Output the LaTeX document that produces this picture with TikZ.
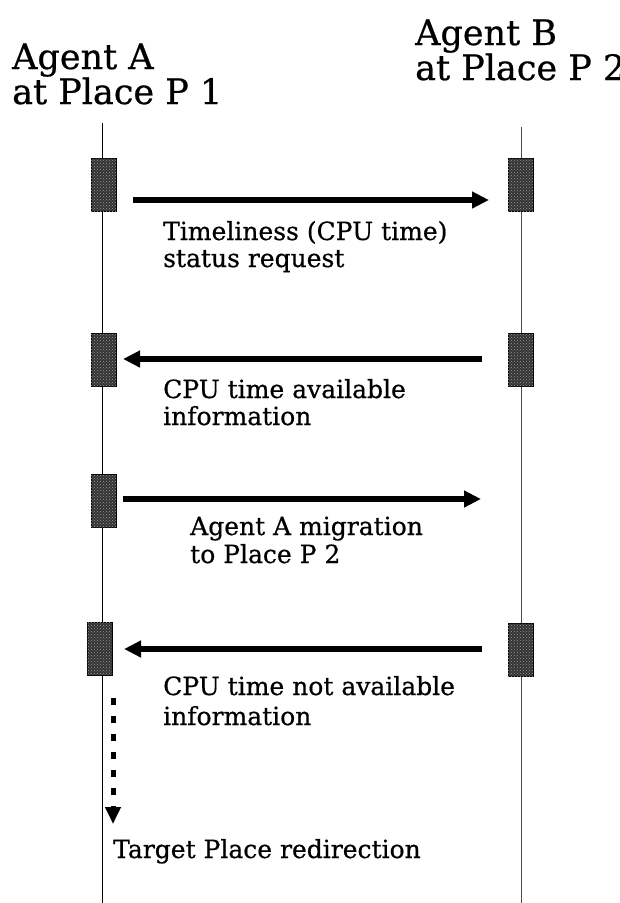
\documentclass[tikz,border=0pt]{standalone}
\usepackage{fontspec}
\setmainfont[FakeBold=0.6]{DejaVu Serif}
\usetikzlibrary{arrows.meta,patterns}
\begin{document}
\begin{tikzpicture}[x=1pt,y=-1pt,
  head/.style={anchor=base west,inner sep=0pt,font=\fontsize{35}{38}\selectfont},
  lbl/.style={anchor=base west,inner sep=0pt,font=\fontsize{25}{27}\selectfont},
  act/.style={draw=black,line width=0.6pt,fill=black!80,minimum width=25pt,minimum height=53pt,inner sep=0pt,
    postaction={pattern=crosshatch dots,pattern color=black!40}},
  msg/.style={line width=6pt,-{Triangle[length=17pt,width=16pt]}},
  redir/.style={line width=5pt,dash pattern=on 7pt off 11pt,-{Triangle[length=17pt,width=15pt]}}]
\useasboundingbox (0,0) rectangle (620,903);
% headings
\node[head] (ha1) at (12,69) {Agent A};
\node[head] (ha2) at (12,104) {at Place P 1};
\node[head] (hb1) at (415,45) {Agent B};
\node[head] (hb2) at (415,80) {at Place P 2};
% lifelines
\coordinate (la0) at (102,123);
\coordinate (la1) at (102,903);
\coordinate (lb0) at (521,127);
\coordinate (lb1) at (521,903);
\draw[line width=1pt] (la0) -- (la1);
\draw[line width=1pt,black!70] (lb0) -- (lb1);
% activation boxes
\node[act] (A1) at (103.5,184.5) {};
\node[act] (B1) at (520.5,184.5) {};
\node[act] (A2) at (103.5,359.5) {};
\node[act] (B2) at (520.5,359.5) {};
\node[act] (A3) at (103.5,500.5) {};
\node[act] (A4) at (99.5,649) {};
\node[act] (B4) at (520.5,649.5) {};
% message endpoints
\coordinate (m1s) at (133,200);
\coordinate (m1e) at (489,200);
\coordinate (m2s) at (482,359);
\coordinate (m2e) at (123,359);
\coordinate (m3s) at (123,499);
\coordinate (m3e) at (481,499);
\coordinate (m4s) at (482,649);
\coordinate (m4e) at (124,649);
\coordinate (r0) at (113,698);
\coordinate (r1) at (113,824);
\draw[msg] (m1s) -- (m1e);
\draw[msg] (m2s) -- (m2e);
\draw[msg] (m3s) -- (m3e);
\draw[msg] (m4s) -- (m4e);
\draw[redir] (r0) -- (r1);
% labels
\node[lbl] (t1a) at (163,240) {Timeliness (CPU time)};
\node[lbl] (t1b) at (163,267) {status request};
\node[lbl] (t2a) at (163,398) {CPU time available};
\node[lbl] (t2b) at (163,425) {information};
\node[lbl] (t3a) at (190,535) {Agent A migration};
\node[lbl] (t3b) at (190,563) {to Place P 2};
\node[lbl] (t4a) at (163,695) {CPU time not available};
\node[lbl] (t4b) at (163,725) {information};
\node[lbl] (t5) at (113,858) {Target Place redirection};
\end{tikzpicture}
\end{document}
